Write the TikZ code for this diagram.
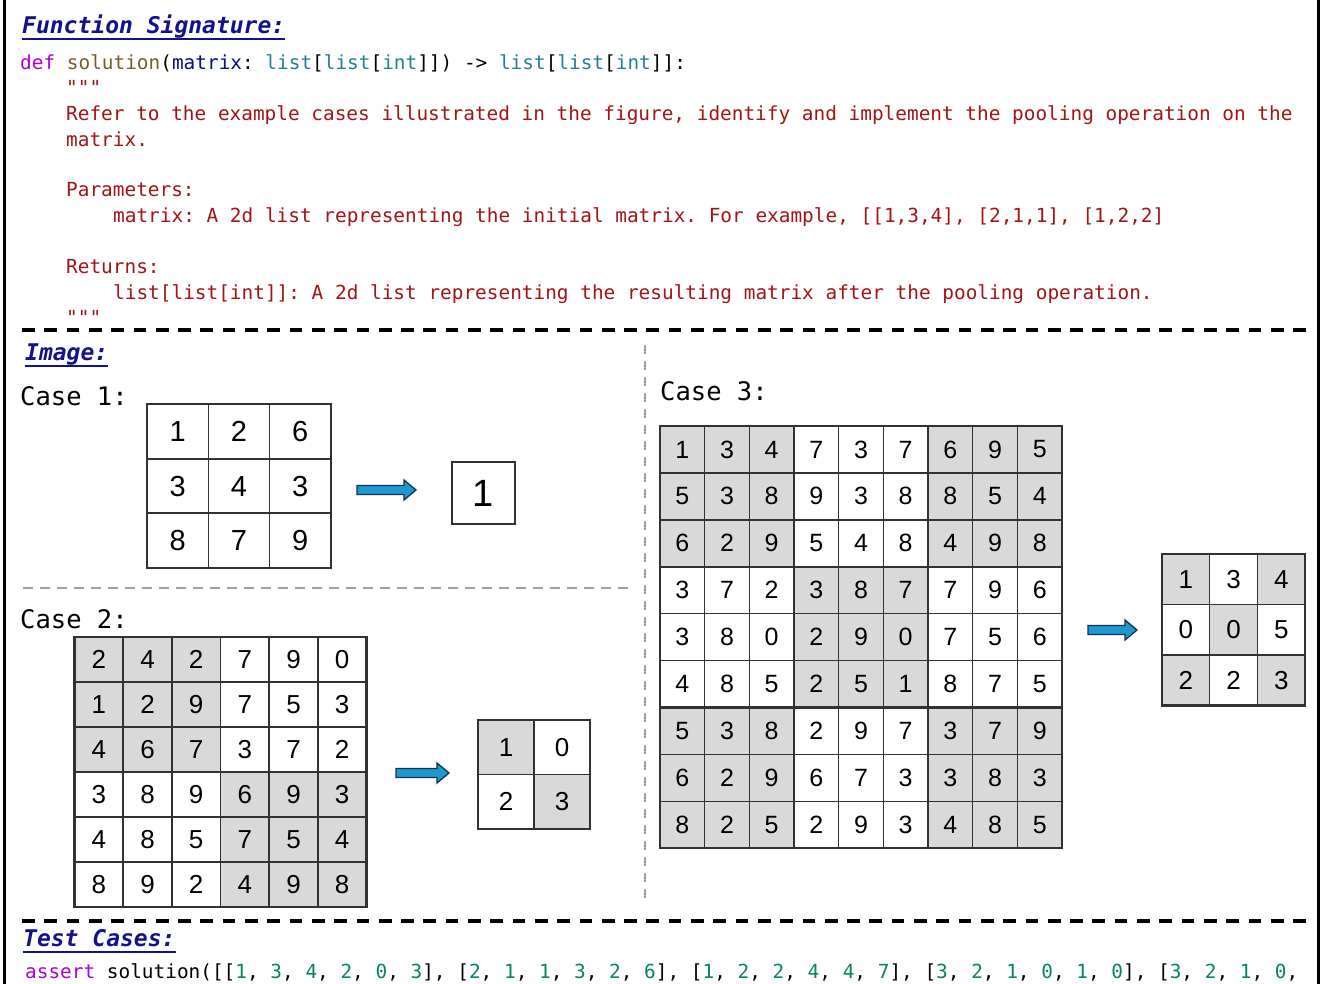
\documentclass[tikz,border=0pt]{standalone}
\usepackage{fontspec}
\setmonofont{DejaVu Sans Mono}
\newfontfamily\numfont{Liberation Sans}
\frenchspacing
\definecolor{titleblue}{RGB}{18,18,140}
\definecolor{kw}{RGB}{175,0,219}
\definecolor{fn}{RGB}{121,94,38}
\definecolor{par}{RGB}{0,16,128}
\definecolor{ty}{RGB}{38,127,153}
\definecolor{doc}{RGB}{163,21,21}
\definecolor{numgreen}{RGB}{9,134,88}
\definecolor{cellgray}{RGB}{217,217,217}
\definecolor{gridline}{RGB}{50,50,50}
\definecolor{dashgray}{RGB}{160,160,160}
\definecolor{arrowblue}{RGB}{30,152,210}
\definecolor{arrowedge}{RGB}{20,50,80}
\newcommand\nm[1]{\textcolor{numgreen}{#1}}
\tikzset{
  code/.style={anchor=base west, inner sep=0, font=\ttfamily\fontsize{19.4}{19.4}\selectfont},
  doc/.style={code, text=doc},
  title/.style={anchor=base west, inner sep=0, text=titleblue, font=\ttfamily\bfseries\itshape\fontsize{23}{23}\selectfont},
  ulin/.style={titleblue, line width=2},
  caselbl/.style={anchor=base west, inner sep=0, font=\ttfamily\fontsize{25.5}{25.5}\selectfont},
  cell/.style={draw=gridline, line width=1.4, inner sep=0, outer sep=0},
  blk/.style={draw=gridline, line width=2.4},
  sepblack/.style={black, line width=3.5, dash pattern=on 12.7pt off 9.6pt},
  sepgray/.style={dashgray, line width=2.5, dash pattern=on 10pt off 7pt},
  vsep/.style={dashgray, line width=1.6, dash pattern=on 9pt off 7pt},
  barrow/.style={fill=arrowblue, draw=arrowedge, line width=1.3, line join=miter},
}
\newcommand\cellgrid[8]{%
  \foreach \row [count=\r] in {#8} {
    \foreach \v [count=\c] in \row {
      \ifnum#6=0 \def\cf{white}\else
        \pgfmathtruncatemacro\sh{mod(floor((\r-1)/#6)+floor((\c-1)/#6),2)}%
        \ifnum\sh=0 \def\cf{cellgray}\else\def\cf{white}\fi
      \fi
      \node[cell, fill=\cf, minimum width=#4, minimum height=#5,
            font=\numfont\fontsize{#7}{#7}\selectfont]
        (#1-\r-\c) at ({#2+(\c-0.5)*#4},{#3+(\r-0.5)*#5}) {\v};
    }
  }
}
\newcommand\blockarrow[3]{% x0, x1, y
  \draw[barrow] (#1,#3-4.5) -- (#2-12,#3-4.5) -- (#2-12,#3-10) -- (#2,#3)
    -- (#2-12,#3+10) -- (#2-12,#3+4.5) -- (#1,#3+4.5) -- cycle;
}
\begin{document}
\begin{tikzpicture}[x=1pt,y=-1pt]
\useasboundingbox (0,0) rectangle (1320,984);
\fill[white] (0,0) rectangle (1320,984);
% frame
\draw[black, line width=3] (4.5,0) -- (4.5,984);
\draw[black, line width=3] (1318.5,0) -- (1318.5,984);

% ---------- Function signature ----------
\node[title] (t1) at (22,33.5) {Function Signature:};
\draw[ulin] ([yshift=-5.5pt]t1.base west) -- ([yshift=-5.5pt]t1.base east);
\node[code] (sig) at (20,70) {\color{kw}def \color{fn}solution\color{black}(\color{par}matrix\color{black}: \color{ty}list\color{black}[\color{ty}list\color{black}[\color{ty}int\color{black}]]) -> \color{ty}list\color{black}[\color{ty}list\color{black}[\color{ty}int\color{black}]]:};
\node[doc] (q1) at (66,95) {"""};
\node[doc] (d1) at (66,121) {Refer to the example cases illustrated in the figure, identify and implement the pooling operation on the};
\node[doc] (d2) at (66,147) {matrix.};
\node[doc] (d3) at (66,197) {Parameters:};
\node[doc] (d4) at (113,223) {matrix: A 2d list representing the initial matrix. For example, [[1,3,4], [2,1,1], [1,2,2]};
\node[doc] (d5) at (66,274) {Returns:};
\node[doc] (d6) at (113,300) {list[list[int]]: A 2d list representing the resulting matrix after the pooling operation.};
\node[doc] (q2) at (66,324) {"""};

\draw[sepblack] (22,330) -- (1307,330);

% ---------- Image ----------
\node[title] (t2) at (25,360) {Image:};
\draw[ulin] ([yshift=-5.5pt]t2.base west) -- ([yshift=-5.5pt]t2.base east);
\draw[vsep] (645,345) -- (645,905);
\draw[sepgray] (23,588) -- (632,588);

% Case 1
\node[caselbl] (c1) at (20,405) {Case 1:};
\cellgrid{a}{147}{404}{61.3}{54.7}{0}{29}{{1,2,6},{3,4,3},{8,7,9}}
\draw[blk, line width=2] (a-1-1.north west) rectangle (a-3-3.south east);
\draw[blk, line width=2] (a-1-1.south west) -- (a-1-3.south east);
\draw[blk, line width=2] (a-2-1.south west) -- (a-2-3.south east);
\blockarrow{357}{416}{490}
\cellgrid{ao}{452}{462}{63}{62}{0}{38}{{1}}
\draw[blk] (ao-1-1.north west) rectangle (ao-1-1.south east);

% Case 2
\node[caselbl] (c2) at (20,628) {Case 2:};
\cellgrid{b}{74.5}{637}{48.67}{45}{3}{26}{{2,4,2,7,9,0},{1,2,9,7,5,3},{4,6,7,3,7,2},{3,8,9,6,9,3},{4,8,5,7,5,4},{8,9,2,4,9,8}}
\draw[blk] (b-1-1.north west) rectangle (b-6-6.south east);
\draw[blk] (b-2-1.south west) -- (b-2-6.south east);
\draw[blk] (b-4-1.south west) -- (b-4-6.south east);
\blockarrow{396}{449}{773}
\cellgrid{bo}{478}{720}{56}{54.5}{1}{26}{{1,0},{2,3}}
\draw[blk] (bo-1-1.north west) rectangle (bo-2-2.south east);

% Case 3
\node[caselbl] (c3) at (660,400) {Case 3:};
\cellgrid{g}{660}{426}{44.67}{46.9}{3}{25}{{1,3,4,7,3,7,6,9,5},{5,3,8,9,3,8,8,5,4},{6,2,9,5,4,8,4,9,8},{3,7,2,3,8,7,7,9,6},{3,8,0,2,9,0,7,5,6},{4,8,5,2,5,1,8,7,5},{5,3,8,2,9,7,3,7,9},{6,2,9,6,7,3,3,8,3},{8,2,5,2,9,3,4,8,5}}
\draw[blk] (g-1-1.north west) rectangle (g-9-9.south east);
\draw[blk] (g-3-1.south west) -- (g-3-9.south east);
\draw[blk] (g-6-1.south west) -- (g-6-9.south east);
\blockarrow{1088}{1137}{630}
\cellgrid{go}{1162}{554}{47.7}{50.5}{1}{26}{{1,3,4},{0,0,5},{2,2,3}}
\draw[blk] (go-1-1.north west) rectangle (go-3-3.south east);

\draw[sepblack] (22,921) -- (1307,921);

% ---------- Test cases ----------
\node[title] (t3) at (23,946.5) {Test Cases:};
\draw[ulin] ([yshift=-5.5pt]t3.base west) -- ([yshift=-5.5pt]t3.base east);
\node[code] (tc) at (25,978) {\color{kw}assert \color{black}solution([[\nm{1}, \nm{3}, \nm{4}, \nm{2}, \nm{0}, \nm{3}], [\nm{2}, \nm{1}, \nm{1}, \nm{3}, \nm{2}, \nm{6}], [\nm{1}, \nm{2}, \nm{2}, \nm{4}, \nm{4}, \nm{7}], [\nm{3}, \nm{2}, \nm{1}, \nm{0}, \nm{1}, \nm{0}], [\nm{3}, \nm{2}, \nm{1}, \nm{0},};
\end{tikzpicture}
\end{document}
